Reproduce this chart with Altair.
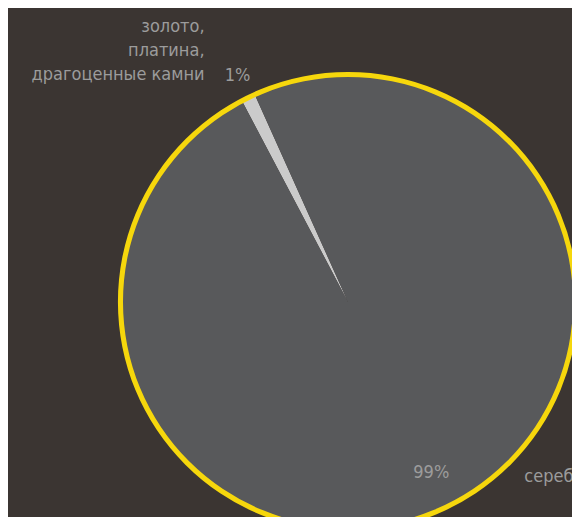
import altair as alt
import pandas as pd
import math

# ---- data ----
categories = ["золото,\nплатина,\nдрагоценные камни", "серебро"]
values = [1, 99]
pct_labels = ["1%", "99%"]
order = [0, 1]

slice_colors = ["#cbcbcb", "#58595b"]
BG = "#3b3532"
TEXT = "#9c9c9c"
YELLOW = "#f6d70c"
FONT = "'DejaVu Sans Condensed', 'Roboto Condensed', Roboto, sans-serif"
FS = 18

df = pd.DataFrame({"category": categories, "value": values, "pct": pct_labels, "order": order})

start = math.radians(332.2)
theta_scale = alt.Scale(type="linear", zero=True, range=[start, start + 2 * math.pi])
CX, CY = 340, 294

base = alt.Chart(df)

theta = alt.Theta("value:Q", stack=True, scale=theta_scale)
ordr = alt.Order("order:Q")

pie = base.mark_arc(outerRadius=227).encode(
    theta=theta,
    order=ordr,
    color=alt.Color("category:N", scale=alt.Scale(domain=categories, range=slice_colors), legend=None),
    x=alt.value(CX), y=alt.value(CY),
)

ring = base.mark_arc(innerRadius=225, outerRadius=230, color=YELLOW, theta=0, theta2=2 * math.pi).encode(
    x=alt.value(CX), y=alt.value(CY),
).transform_filter("datum.order == 0")

pct_small = base.mark_text(radius=252, font=FONT, fontSize=FS, color=TEXT, align="center", baseline="middle").encode(
    theta=theta, order=ordr,
    text=alt.condition("datum.order == 0", "pct:N", alt.value("")),
    x=alt.value(CX), y=alt.value(CY),
)

pct_big = base.mark_text(radius=190, font=FONT, fontSize=FS, color=TEXT, align="center", baseline="middle").encode(
    theta=theta, order=ordr,
    text=alt.condition("datum.order == 1", "pct:N", alt.value("")),
    x=alt.value(CX), y=alt.value(CY),
)

name_gold = base.mark_text(radius=252, font=FONT, fontSize=FS, color=TEXT, align="right", baseline="alphabetic",
                           dx=-33, dy=-44, lineBreak="\n", lineHeight=24).encode(
    theta=theta, order=ordr,
    text=alt.condition("datum.order == 0", "category:N", alt.value("")),
    x=alt.value(CX), y=alt.value(CY),
)

name_silver = base.mark_text(radius=190, font=FONT, fontSize=FS, color=TEXT, align="left", baseline="alphabetic",
                             dx=93, dy=9).encode(
    theta=theta, order=ordr,
    text=alt.condition("datum.order == 1", "category:N", alt.value("")),
    x=alt.value(CX), y=alt.value(CY),
)

chart = alt.layer(pie, ring, pct_small, pct_big, name_gold, name_silver).properties(
    width=564, height=509, padding=0, background=BG,
    autosize=alt.AutoSizeParams(type="none"),
).configure_view(stroke=None)

chart.save("out.html", embed_options={"renderer": "svg", "actions": False})
